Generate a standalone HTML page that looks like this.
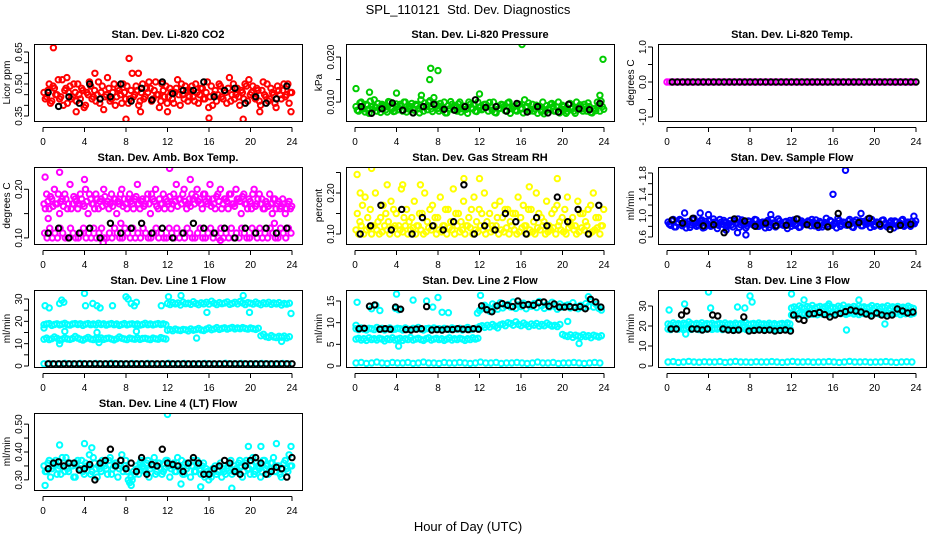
<!DOCTYPE html>
<html><head><meta charset="utf-8"><title>SPL_110121 Std. Dev. Diagnostics</title>
<style>
html,body{margin:0;padding:0;background:#fff;}
svg{display:block;font-family:"Liberation Sans",Arial,sans-serif;}
</style></head>
<body>
<svg id="chart" width="936" height="540" viewBox="0 0 936 540" xmlns="http://www.w3.org/2000/svg">
<rect x="0" y="0" width="936" height="540" fill="#fff"/>
<text x="468" y="14" font-size="13" text-anchor="middle" style="white-space:pre" xml:space="preserve">SPL_110121  Std. Dev. Diagnostics</text>
<text x="468" y="531" font-size="13" text-anchor="middle">Hour of Day (UTC)</text>
</svg>
<script>
// ---- data (hour-of-day series) ----
const xTicks = [0,4,8,12,16,20,24];

const co2Red = [0.46,0.44,0.50,0.42,0.48,0.45,0.43,0.52,0.47,0.41,0.49,0.44,0.46,0.50,0.43,0.47,0.40,0.45,0.49,0.44,0.42,0.51,0.46,0.38,0.45,0.48,0.43,0.50,0.44,0.47,0.41,0.46,0.49,0.43,0.55,0.45,0.47,0.42,0.50,0.44,0.46,0.48,0.43,0.51,0.45,0.42,0.47,0.49,0.44,0.46,0.41,0.48,0.45,0.50,0.43,0.47,0.44,0.49,0.42,0.46,0.45,0.48,0.43,0.51,0.44,0.40,0.47,0.45,0.49,0.43,0.46,0.48,0.42,0.50,0.45,0.44,0.47,0.43,0.49,0.52,0.46,0.44,0.48,0.42,0.47,0.45,0.50,0.43,0.46,0.41,0.49,0.45,0.47,0.44,0.50,0.46];
const co2Red2 = [0.43,0.47,0.41,0.49,0.45,0.52,0.44,0.40,0.48,0.46,0.43,0.50,0.42,0.45,0.48,0.39,0.46,0.51,0.43,0.47,0.45,0.41,0.49,0.44,0.53,0.42,0.46,0.40,0.48,0.45,0.50,0.43,0.41,0.47,0.44,0.49,0.40,0.46,0.43,0.48,0.51,0.42,0.47,0.45,0.39,0.50,0.44,0.41,0.48,0.43,0.46,0.52,0.40,0.45,0.49,0.42,0.47,0.44,0.50,0.41,0.48,0.43,0.46,0.39,0.49,0.45,0.42,0.50,0.44,0.47,0.41,0.53,0.45,0.43,0.48,0.40,0.46,0.50,0.42,0.45,0.49,0.43,0.47,0.40,0.51,0.44,0.42,0.48,0.45,0.39,0.47,0.43,0.50,0.45,0.41,0.46];
const co2OutT = [1.0,8.3,8.0,19.3,16.0,23.9,2.3,5.0,9.2,9.4,12.0,20.9,3.2];
const co2OutV = [0.67,0.62,0.335,0.335,0.34,0.37,0.53,0.55,0.55,0.37,0.37,0.37,0.37];
const co2Black = [0.46,0.395,0.44,0.41,0.50,0.43,0.44,0.50,0.42,0.48,0.425,0.51,0.455,0.47,0.47,0.51,0.44,0.47,0.48,0.41,0.44,0.41,0.43,0.49];

const pressGreen = [0.0090,0.0080,0.0100,0.0085,0.0095,0.0075,0.0090,0.0105,0.0080,0.0085,0.0095,0.0090,0.0078,0.0100,0.0085,0.0080,0.0090,0.0095,0.0080,0.0100,0.0085,0.0090,0.0076,0.0095,0.0085,0.0105,0.0080,0.0090,0.0100,0.0085,0.0110,0.0095,0.0080,0.0090,0.0100,0.0076,0.0085,0.0095,0.0090,0.0080,0.0100,0.0085,0.0090,0.0075,0.0095,0.0085,0.0080,0.0100,0.0090,0.0085,0.0095,0.0080,0.0090,0.0100,0.0076,0.0085,0.0095,0.0090,0.0080,0.0100,0.0085,0.0090,0.0080,0.0095,0.0085,0.0105,0.0090,0.0080,0.0095,0.0085,0.0075,0.0090,0.0100,0.0080,0.0085,0.0095,0.0090,0.0080,0.0100,0.0085,0.0090,0.0075,0.0095,0.0085,0.0080,0.0100,0.0090,0.0085,0.0095,0.0080,0.0090,0.0076,0.0085,0.0100,0.0080,0.0090];
const pressGreen2 = [0.0082,0.0098,0.0088,0.0078,0.0093,0.0102,0.0084,0.0089,0.0097,0.0077,0.0092,0.0083,0.0101,0.0087,0.0079,0.0096,0.0083,0.0091,0.0100,0.0078,0.0088,0.0097,0.0082,0.0092,0.0076,0.0089,0.0098,0.0083,0.0103,0.0079,0.0093,0.0086,0.0097,0.0082,0.0076,0.0092,0.0101,0.0083,0.0088,0.0096,0.0078,0.0091,0.0084,0.0100,0.0087,0.0095,0.0079,0.0088,0.0083,0.0095,0.0090,0.0099,0.0082,0.0077,0.0091,0.0086,0.0094,0.0081,0.0098,0.0075,0.0089,0.0082,0.0094,0.0085,0.0076,0.0090,0.0098,0.0084,0.0080,0.0093,0.0088,0.0079,0.0074,0.0092,0.0083,0.0097,0.0080,0.0089,0.0076,0.0093,0.0084,0.0079,0.0097,0.0088,0.0075,0.0083,0.0094,0.0080,0.0089,0.0098,0.0077,0.0085,0.0081,0.0093,0.0102,0.0084];
const pressOutT = [0.1,1.4,4.0,7.2,7.3,8.0,16.1,23.9,6.4,12.0,23.6];
const pressOutV = [0.0130,0.0122,0.0120,0.0150,0.0175,0.0170,0.0228,0.0195,0.0115,0.0118,0.0115];
const pressBlack = [0.0090,0.0075,0.0085,0.0098,0.0082,0.0076,0.0090,0.0095,0.0084,0.0082,0.0090,0.0105,0.0088,0.0090,0.0080,0.0097,0.0078,0.0090,0.0076,0.0078,0.0095,0.0085,0.0083,0.0097];

const tempMag = [0,0,0,0,0,0,0,0,0,0,0,0,0,0,0,0,0,0,0,0,0,0,0,0,0,0,0,0,0,0,0,0,0,0,0,0,0,0,0,0,0,0,0,0,0,0,0,0,0,0,0,0,0,0,0,0,0,0,0,0,0,0,0,0,0,0,0,0,0,0,0,0,0,0,0,0,0,0,0,0,0,0,0,0,0,0,0,0,0,0,0,0,0,0,0,0];
const tempBlack = [0,0,0,0,0,0,0,0,0,0,0,0,0,0,0,0,0,0,0,0,0,0,0,0,0,0,0,0,0,0,0,0,0,0,0,0,0,0,0,0,0,0,0,0,0,0,0,0];

const ambUpper = [0.17,0.19,0.16,0.18,0.20,0.17,0.15,0.18,0.19,0.16,0.21,0.17,0.18,0.16,0.19,0.17,0.20,0.15,0.18,0.17,0.19,0.16,0.18,0.20,0.17,0.16,0.19,0.18,0.15,0.17,0.20,0.18,0.16,0.19,0.17,0.18,0.21,0.16,0.18,0.17,0.19,0.15,0.18,0.20,0.16,0.17,0.19,0.18,0.17,0.16,0.19,0.21,0.18,0.17,0.20,0.16,0.18,0.19,0.17,0.20,0.18,0.16,0.19,0.17,0.21,0.18,0.16,0.19,0.20,0.17,0.18,0.16,0.19,0.17,0.20,0.18,0.15,0.19,0.17,0.18,0.16,0.20,0.17,0.19,0.18,0.16,0.17,0.19,0.15,0.18,0.17,0.16,0.18,0.15,0.17,0.16];
const ambUpper2 = [0.16,0.175,0.185,0.165,0.17,0.19,0.175,0.165,0.18,0.17,0.16,0.185,0.175,0.17,0.18,0.165,0.175,0.19,0.17,0.16,0.18,0.175,0.165,0.185,0.175,0.17,0.165,0.18,0.175,0.19,0.165,0.17,0.18,0.175,0.16,0.185,0.17,0.175,0.165,0.18,0.17,0.19,0.175,0.165,0.18,0.17,0.16,0.175,0.185,0.17,0.175,0.165,0.18,0.19,0.175,0.17,0.165,0.18,0.185,0.175,0.17,0.19,0.175,0.18,0.165,0.17,0.185,0.175,0.16,0.18,0.175,0.19,0.17,0.165,0.18,0.175,0.185,0.17,0.16,0.175,0.19,0.165,0.18,0.17,0.16,0.175,0.165,0.17,0.18,0.16,0.175,0.165,0.17,0.16,0.175,0.165];
const ambLower = [0.11,0.10,0.12,0.10,0.11,0.10,0.12,0.11,0.10,0.10,0.12,0.11,0.10,0.10,0.11,0.12,0.10,0.11,0.10,0.12,0.10,0.11,0.12,0.10,0.10,0.11,0.10,0.12,0.11,0.10,0.10,0.12,0.11,0.10,0.12,0.10,0.11,0.10,0.12,0.11,0.10,0.10,0.11,0.12,0.10,0.11,0.10,0.10,0.12,0.11,0.10,0.12,0.10,0.11,0.10,0.12,0.11,0.10,0.10,0.11,0.12,0.10,0.10,0.11,0.12,0.10,0.11,0.10,0.12,0.10,0.11,0.10,0.12,0.10,0.11,0.10,0.12,0.11,0.10,0.10,0.12,0.11,0.10,0.12,0.10,0.11,0.10,0.12,0.11,0.10,0.10,0.12,0.11,0.10,0.12,0.11];
const ambOutT = [0.2,1.6,12.2,4.0,14.2,7.5,22.3,0.5,5.8,17.1];
const ambOutV = [0.225,0.235,0.243,0.22,0.22,0.13,0.13,0.14,0.09,0.095];
const ambBlack = [0.11,0.12,0.10,0.11,0.12,0.10,0.13,0.11,0.12,0.13,0.11,0.12,0.10,0.11,0.13,0.12,0.11,0.12,0.10,0.12,0.11,0.12,0.11,0.12];

const rhYellow = [0.11,0.10,0.12,0.10,0.11,0.115,0.10,0.12,0.11,0.10,0.105,0.12,0.11,0.10,0.115,0.12,0.10,0.11,0.105,0.12,0.10,0.11,0.115,0.10,0.12,0.11,0.10,0.105,0.115,0.11,0.12,0.10,0.11,0.105,0.12,0.10,0.115,0.11,0.10,0.12,0.105,0.11,0.10,0.12,0.115,0.10,0.11,0.105,0.12,0.11,0.10,0.115,0.105,0.11,0.12,0.10,0.11,0.105,0.115,0.10,0.12,0.11,0.10,0.105,0.115,0.12,0.10,0.11,0.105,0.10,0.115,0.11,0.12,0.10,0.105,0.11,0.115,0.10,0.12,0.11,0.105,0.10,0.115,0.12,0.11,0.10,0.105,0.115,0.11,0.12,0.10,0.105,0.11,0.115,0.10,0.12];
const rhYellow2 = [0.15,0.13,0.17,0.19,0.14,0.16,0.12,0.20,0.13,0.14,0.17,0.15,0.13,0.18,0.16,0.15,0.12,0.21,0.14,0.16,0.13,0.14,0.18,0.12,0.15,0.15,0.20,0.13,0.16,0.17,0.14,0.14,0.19,0.12,0.16,0.16,0.13,0.21,0.15,0.15,0.13,0.18,0.12,0.14,0.16,0.19,0.13,0.16,0.15,0.20,0.13,0.15,0.12,0.17,0.14,0.18,0.14,0.16,0.16,0.13,0.15,0.15,0.19,0.14,0.17,0.12,0.16,0.16,0.13,0.20,0.15,0.14,0.13,0.18,0.12,0.15,0.16,0.17,0.13,0.14,0.16,0.19,0.13,0.14,0.12,0.18,0.15,0.15,0.13,0.16,0.17,0.20,0.14,0.14,0.12,0.16];
const rhOutT = [0.2,1.6,12.0,3.1,6.3,16.8,10.5,4.6,19.5,0.5];
const rhOutV = [0.245,0.26,0.235,0.22,0.22,0.215,0.235,0.22,0.235,0.20];
const rhBlack = [0.10,0.12,0.17,0.11,0.16,0.10,0.14,0.12,0.11,0.13,0.22,0.10,0.12,0.11,0.15,0.13,0.10,0.14,0.12,0.19,0.13,0.16,0.10,0.17];

const flowBlue = [0.88,0.82,0.93,0.79,0.86,0.91,0.84,0.77,0.89,0.83,0.95,0.80,0.87,0.92,0.78,0.85,0.90,0.82,0.88,0.76,0.93,0.84,0.87,0.81,0.91,0.79,0.86,0.94,0.83,0.88,0.77,0.90,0.85,0.82,0.92,0.80,0.87,0.84,0.89,0.78,0.93,0.86,0.81,0.90,0.83,0.88,0.76,0.91,0.85,0.82,0.94,0.79,0.87,0.84,0.90,0.81,0.88,0.92,0.78,0.86,0.83,0.95,0.80,0.89,0.85,0.77,0.91,0.84,0.87,0.82,0.93,0.79,0.88,0.85,0.90,0.81,0.86,0.94,0.78,0.89,0.83,0.87,0.80,0.92,0.85,0.82,0.90,0.77,0.88,0.84,0.91,0.80,0.86,0.83,0.89,0.85];
const flowBlue2 = [0.84,0.90,0.79,0.87,0.93,0.81,0.88,0.85,0.78,0.92,0.86,0.83,0.90,0.77,0.89,0.84,0.80,0.94,0.86,0.82,0.88,0.91,0.79,0.85,0.83,0.90,0.87,0.78,0.92,0.84,0.81,0.89,0.86,0.93,0.80,0.85,0.88,0.77,0.91,0.83,0.86,0.79,0.94,0.85,0.82,0.89,0.87,0.80,0.92,0.84,0.78,0.90,0.86,0.83,0.88,0.93,0.81,0.85,0.89,0.79,0.87,0.84,0.91,0.82,0.86,0.95,0.80,0.88,0.83,0.90,0.85,0.78,0.92,0.87,0.81,0.89,0.84,0.86,0.93,0.80,0.88,0.82,0.91,0.85,0.79,0.87,0.84,0.90,0.81,0.86,0.93,0.83,0.88,0.80,0.85,0.90];
const flowOutT = [16.0,17.2,1.7,3.2,7.6,6.8,10.0,18.7,23.8,5.7,4.0];
const flowOutV = [1.40,1.85,1.05,1.05,0.64,0.68,1.02,1.04,0.99,0.73,1.02];
const flowBlack = [0.92,0.86,0.95,0.81,0.83,0.68,0.94,0.90,0.80,0.86,0.81,0.82,0.94,0.83,0.82,0.79,1.04,0.83,0.87,0.95,0.84,0.74,0.82,0.84];

const l1Bottom = [1.0,1.1,0.9,1.0,1.2,1.0,0.9,1.1,1.0,1.0,1.1,0.9,1.0,1.2,1.0,1.0,0.9,1.1,1.0,1.0,1.1,1.0,0.9,1.0,1.2,1.0,1.0,1.1,0.9,1.0,1.0,1.1,1.0,0.9,1.0,1.2,1.0,1.0,1.1,0.9,1.0,1.0,1.1,1.0,0.9,1.0,1.1,1.0];
const l1Low = [12,12.5,11.8,12.2,13,12.4,11.5,12,12.6,12.1,11.9,12.3,13.2,12.5,12,11.6,12.2,12.8,12.1,11.8,12.4,12,12.6,11.9,12.3,12.5,12.1,11.7,12.2,13,12.4,12.1,11.8,12.5,12.2,12,12.6,11.9,12.3,12.4,12.1,11.8,12.5,12.2,12,12.7,12.3,12.1];
const l1Mid = [18.5,18.8,19,18.2,18.6,18.9,18.4,18.7,19.1,18.5,18.3,18.8,19,18.6,18.9,18.2,18.7,19,18.5,18.8,18.4,19.1,18.6,18.9,18.3,18.7,19,18.5,18.8,18.2,18.6,19,18.4,18.7,18.9,18.5,18.8,18.3,18.6,19.1,18.5,18.8,18.4,18.7,19,18.6,18.9,18.5];
const l1Hi2 = [28,27.5,28.4,27.8,28.2,27.3,28.6,27.9,28.1,27.6,28.8,28,27.4,28.3,27.8,28.5,27.7,29,28.1,27.5,28.4,27.9,28.2,28.7,27.6,28,28.5,27.8,28.9,28.2,27.5,28.4,28.1,27.7,28.6,28,27.4,28.3,27.9,28.5,27.6,28.2,27.8,28.4,27.3,28,27.7,28.1];
const l1Mid2 = [16,16.3,15.8,16.5,16.1,15.9,16.4,16.2,15.7,16.6,16,16.3,16.8,16.1,15.9,16.5,17,16.2,16.6,17.2,16.4,16.8,17.1,16.5,16.9,17.3,16.6,17,16.7,17.2,16.8,16.5,17,16.7,16.4,16.9,13.5,14.2,13.1,12.8,13.6,13,12.7,13.3,12.9,13.4,12.6,13.1];
const l1OutT = [0.2,0.6,1.6,1.8,2.0,4.0,4.1,4.8,5.2,5.5,6.7,8.0,8.2,8.5,8.8,9.0,11.4,0.1,1.6,5.4,9.0,14.8,15.8,19.9,23.9,5.2,2.1,13.3,12.1,19.3,23.0];
const l1OutV = [27,26,28,29.5,28.5,32.5,27,28,27,26,27,31,30,28,27,28.5,27,17,10,10.5,15.5,12.5,24,24,23.5,15,15.5,31.5,31,31.5,11];
const l1Black = [1,1,1,1,1,1,1,1,1,1,1,1,1,1,1,1,1,1,1,1,1,1,1,1,1,1,1,1,1,1,1,1,1,1,1,1,1,1,1,1,1,1,1,1,1,1,1,1];

const l2Bottom = [0.7,0.8,0.6,0.7,0.9,0.7,0.6,0.8,0.7,0.7,0.8,0.6,0.7,0.9,0.7,0.7,0.6,0.8,0.7,0.7,0.8,0.7,0.6,0.7,0.9,0.7,0.7,0.8,0.6,0.7,0.7,0.8,0.7,0.6,0.7,0.9,0.7,0.7,0.8,0.6,0.7,0.7,0.8,0.7,0.6,0.7,0.8,0.7];
const l2Low = [6.2,6.4,6.0,6.3,5.9,6.5,6.1,6.3,6.0,6.4,6.2,5.8,6.3,6.1,6.5,6.0,6.2,6.4,5.9,6.3,6.1,6.6,6.0,6.2,6.4,6.1,5.9,6.3,6.5,6.0,6.2,6.4,6.1,6.3,5.9,6.2,6.5,6.0,6.3,6.1,6.4,6.2,5.9,6.3,6.1,6.5,6.2,6.4];
const l2Mid = [8.6,8.4,8.8,8.5,8.3,8.7,8.6,8.4,8.9,8.5,8.7,8.3,8.6,8.8,8.4,8.5,8.7,8.6,8.3,8.8,8.5,8.4,8.7,8.6,8.9,8.5,8.3,8.6,8.7,8.4,8.8,8.5,8.6,8.3,8.7,8.5,8.4,8.8,8.6,8.5,8.7,8.3,8.6,8.9,8.4,8.5,8.7,8.6];
const l2Up2 = [12.8,13.2,14,13.5,12.6,14.3,13.8,13.1,14.6,13.4,13.9,14.2,13.6,14.8,13.3,14.1,13.7,14.5,13.2,14,13.8,14.4,13.5,14.9,13.9,13.3,14.2,13.6,14.7,13.8,13.1,14.3,13.6,13.9,14.1,13.4,14.6,13.7,13.2,14,13.5,14.4,13.8,14.9,13.6,14.2,13.3,12.9];
const l2Mid2 = [9.1,9.3,8.9,9.4,9.0,9.6,9.2,8.8,9.5,9.7,9.3,10.0,9.8,9.4,10.2,9.6,9.3,9.9,9.5,9.1,9.7,9.4,9.8,9.2,9.6,9.3,9.9,9.5,9.2,9.4,9.1,9.6,7.3,7.0,6.8,7.2,6.6,7.1,6.9,6.7,7.2,6.8,7.0,6.5,7.1,6.9,6.7,7.0];
const l2OutT = [0.2,1.6,2.0,4.0,4.2,5.6,8.0,8.4,11.8,0.1,12.1,22.5,4.2,9.0,20.5,2.4,3.9,7.5,6.9,21.6];
const l2OutV = [14.7,13.2,14.0,16.6,13.0,15.2,15.8,12.4,12.2,9.4,16.3,16.0,4.6,12.3,10.3,12.8,13.3,13.6,15.0,5.2];
const l2Black = [8.6,8.7,13.8,14.1,8.5,8.6,8.5,13.6,13.1,8.4,8.3,8.5,8.6,13.7,8.3,8.4,8.3,8.5,8.4,8.6,8.5,8.4,8.6,8.5];
const l2Black2 = [13.9,13.0,12.5,13.9,14.4,14.0,13.7,15.0,14.0,14.2,14.0,14.6,14.8,13.8,14.3,13.6,13.6,13.7,13.5,13.7,13.2,15.4,14.8,13.6];

const l3Bottom = [2,2.2,1.8,2,2.3,2,1.9,2.1,2,2,2.2,1.8,2,2.3,2,2,1.9,2.1,2,2,2.2,2,1.8,2,2.3,2,2,2.1,1.9,2,2,2.2,2,1.8,2,2.3,2,2,2.1,1.9,2,2,2.2,2,1.8,2,2.1,2];
const l3Low = [18.5,18.2,19,18.7,18.4,18.9,18.1,18.6,19.2,18.3,18.8,18.5,18.2,19.1,18.6,18.4,18.9,18.3,18.7,18.5,19,18.2,18.6,18.8,18.4,18.9,18.1,18.7,18.5,19.2,18.3,18.6,18.4,18.9,18.2,18.7,18.5,19,18.3,18.6,18.8,18.2,18.5,18.9,18.4,18.7,18.3,18.6];
const l3Hi = [21,20.5,21.5,20.8,21.2,20.6,21.4,20.9,22,21.1,20.7,21.3,20.8,21.6,20.5,21.2,20.9,21.4,20.6,21,21.3,20.7,21.5,20.8,21.1,20.6,21.4,20.9,21.2,20.5,21.6,20.8,21,21.3,20.7,21.5,20.9,21.1,20.6,21.4,20.8,21.2,20.5,21,21.3,20.7,21.5,21];
const l3Up2 = [29,29.5,28.6,30,29.2,28.8,29.7,29.1,30.3,28.9,29.4,29.8,28.7,29.6,30.1,29,29.3,28.8,29.9,29.2,30.4,28.9,29.5,29.1,29.8,28.7,30,29.3,29.6,28.9,29.4,30.2,29,29.7,28.8,29.5,29.2,30.1,28.9,29.6,29.3,29.8,28.7,29.4,29,29.9,29.2,28.8];
const l3Mid2 = [25.5,26,25.2,26.4,25.8,26.1,25.4,26.6,25.9,26.2,25.6,26.8,26,26.5,25.7,26.3,26.9,25.9,26.4,26.1,26.7,25.8,26.3,26.6,26,26.9,25.7,26.4,26.2,26.8,25.9,26.5,26.1,26.7,25.8,26.3,26,26.6,25.9,26.4,26.2,26.8,25.7,26.5,26.1,26.7,25.9,26.3];
const l3OutT = [1.7,4.0,8.0,8.2,12.0,13.2,0.2,4.2,6.8,17.3,21.0,18.5,1.8,7.5,15.6];
const l3OutV = [31,37,35,32,36,33,28,29,29.5,18,21,33,16,29,31];
const l3Black = [18.5,18.5,25.5,27.5,18.5,18.5,18.0,18.5,25.5,25,18.5,18,17.8,18,24.5,17.5,17.8,18,17.8,18.0,17.5,17.8,18,17.5];
const l3Black2 = [25.5,23.5,22.8,26,26.2,26.8,25.7,24.5,25.5,26.3,27.2,28,27.5,27,26,25,26.5,25.5,25,25.5,28.5,27.5,26.5,27];

const l4Cyan = [0.35,0.33,0.37,0.34,0.36,0.32,0.35,0.38,0.33,0.34,0.36,0.35,0.31,0.37,0.34,0.33,0.36,0.35,0.32,0.38,0.34,0.35,0.33,0.36,0.34,0.37,0.32,0.35,0.36,0.34,0.39,0.35,0.33,0.29,0.30,0.32,0.34,0.36,0.35,0.33,0.37,0.34,0.35,0.32,0.36,0.34,0.33,0.37,0.35,0.34,0.36,0.33,0.35,0.37,0.32,0.34,0.36,0.35,0.33,0.37,0.34,0.35,0.31,0.33,0.32,0.34,0.35,0.33,0.36,0.34,0.32,0.35,0.37,0.33,0.34,0.36,0.35,0.33,0.37,0.34,0.35,0.32,0.36,0.34,0.33,0.37,0.35,0.34,0.36,0.33,0.35,0.32,0.34,0.37,0.33,0.35];
const l4Cyan2 = [0.33,0.36,0.31,0.35,0.37,0.34,0.32,0.36,0.38,0.33,0.35,0.31,0.36,0.34,0.37,0.32,0.35,0.39,0.33,0.36,0.31,0.34,0.37,0.35,0.32,0.38,0.34,0.36,0.31,0.35,0.33,0.37,0.30,0.31,0.33,0.35,0.32,0.37,0.34,0.36,0.31,0.35,0.38,0.33,0.36,0.32,0.34,0.37,0.31,0.35,0.33,0.38,0.34,0.32,0.36,0.35,0.31,0.37,0.33,0.35,0.32,0.36,0.34,0.30,0.31,0.33,0.32,0.35,0.31,0.33,0.34,0.36,0.32,0.35,0.33,0.37,0.31,0.36,0.34,0.32,0.38,0.33,0.35,0.31,0.37,0.34,0.32,0.36,0.38,0.33,0.35,0.31,0.36,0.34,0.39,0.35];
const l4OutT = [12.0,0.2,13.3,15.2,18.2,1.6,4.0,22.5,19.8,8.5,4.7,23.9,21.0];
const l4OutV = [0.535,0.28,0.285,0.275,0.27,0.425,0.43,0.43,0.42,0.28,0.415,0.42,0.42];
const l4Black = [0.34,0.365,0.36,0.335,0.355,0.36,0.41,0.37,0.36,0.38,0.355,0.41,0.355,0.33,0.38,0.32,0.34,0.37,0.33,0.35,0.38,0.32,0.345,0.31];
const l4Black2 = [0.36,0.35,0.36,0.34,0.30,0.37,0.35,0.34,0.33,0.32,0.35,0.36,0.35,0.36,0.36,0.32,0.35,0.36,0.32,0.37,0.36,0.33,0.34,0.38];

// ---- panel layout / axis config ----
const colLeft = [34,346,658];
const rowTop = [44,167,290,413];
const BOXW = 268, BOXH = 77;

const panels = [
 {name:'co2', title:'Stan. Dev. Li-820 CO2', ylab:'Licor ppm', col:0,row:0, ymin:0.3266,ymax:0.6875,
  ticks:[0.35,0.40,0.45,0.50,0.55,0.60,0.65], labels:[['0.35',0.35],['0.50',0.50],['0.65',0.65]],
  series:[{v:co2Red,t0:0.1,dt:0.25,c:'#ff0000'},{v:co2Red2,t0:0.22,dt:0.25,c:'#ff0000'}],
  outT:co2OutT,outV:co2OutV,outC:'#ff0000',
  black:[{v:co2Black,t0:0.5,dt:1}]},
 {name:'pressure', title:'Stan. Dev. Li-820 Pressure', ylab:'kPa', col:1,row:0, ymin:0.0058,ymax:0.0229,
  ticks:[0.010,0.015,0.020], labels:[['0.010',0.010],['0.020',0.020]],
  series:[{v:pressGreen,t0:0.1,dt:0.25,c:'#00cc00'},{v:pressGreen2,t0:0.22,dt:0.25,c:'#00cc00'}],
  outT:pressOutT,outV:pressOutV,outC:'#00cc00',
  black:[{v:pressBlack,t0:0.6,dt:1}]},
 {name:'temp', title:'Stan. Dev. Li-820 Temp.', ylab:'degrees C', col:2,row:0, ymin:-1.114,ymax:1.086,
  ticks:[-1,-0.5,0,0.5,1], labels:[['-1.0',-1],['0.0',0],['1.0',1]],
  series:[{v:tempMag,t0:0,dt:0.25,c:'#ff00ff'}],
  outT:[],outV:[],outC:'#ff00ff',
  black:[{v:tempBlack,t0:0.5,dt:0.5}]},
 {name:'amb-box', title:'Stan. Dev. Amb. Box Temp.', ylab:'degrees C', col:0,row:1, ymin:0.0875,ymax:0.2458,
  ticks:[0.10,0.15,0.20], labels:[['0.10',0.10],['0.20',0.20]],
  series:[{v:ambUpper,t0:0.1,dt:0.25,c:'#ff00ff'},{v:ambUpper2,t0:0.22,dt:0.25,c:'#ff00ff'},{v:ambLower,t0:0.15,dt:0.25,c:'#ff00ff'}],
  outT:ambOutT,outV:ambOutV,outC:'#ff00ff',
  black:[{v:ambBlack,t0:0.5,dt:1}]},
 {name:'gas-rh', title:'Stan. Dev. Gas Stream RH', ylab:'percent', col:1,row:1, ymin:0.0756,ymax:0.2634,
  ticks:[0.10,0.15,0.20,0.25], labels:[['0.10',0.10],['0.20',0.20]],
  series:[{v:rhYellow,t0:0.1,dt:0.25,c:'#ffff00'},{v:rhYellow2,t0:0.22,dt:0.25,c:'#ffff00'}],
  outT:rhOutT,outV:rhOutV,outC:'#ffff00',
  black:[{v:rhBlack,t0:0.5,dt:1}]},
 {name:'sample-flow', title:'Stan. Dev. Sample Flow', ylab:'ml/min', col:2,row:1, ymin:0.469,ymax:1.9125,
  ticks:[0.6,0.8,1.0,1.2,1.4,1.6,1.8], labels:[['0.6',0.6],['1.0',1.0],['1.4',1.4],['1.8',1.8]],
  series:[{v:flowBlue,t0:0.1,dt:0.25,c:'#0000ff'},{v:flowBlue2,t0:0.22,dt:0.25,c:'#0000ff'}],
  outT:flowOutT,outV:flowOutV,outC:'#0000ff',
  black:[{v:flowBlack,t0:0.5,dt:1}]},
 {name:'line1-flow', title:'Stan. Dev. Line 1 Flow', ylab:'ml/min', col:0,row:2, ymin:-0.45,ymax:34.03,
  ticks:[0,5,10,15,20,25,30], labels:[['0',0],['10',10],['20',20],['30',30]],
  series:[{v:l1Bottom,t0:0.1,dt:0.5,c:'#00ffff'},{v:l1Low,t0:0.1,dt:0.25,c:'#00ffff'},{v:l1Mid,t0:0.1,dt:0.25,c:'#00ffff'},{v:l1Hi2,t0:12.0,dt:0.25,c:'#00ffff'},{v:l1Mid2,t0:12.0,dt:0.25,c:'#00ffff'}],
  outT:l1OutT,outV:l1OutV,outC:'#00ffff',
  black:[{v:l1Black,t0:0.5,dt:0.5}]},
 {name:'line2-flow', title:'Stan. Dev. Line 2 Flow', ylab:'ml/min', col:1,row:2, ymin:-0.23,ymax:17.54,
  ticks:[0,5,10,15], labels:[['0',0],['5',5],['10',10],['15',15]],
  series:[{v:l2Bottom,t0:0.1,dt:0.5,c:'#00ffff'},{v:l2Low,t0:0.1,dt:0.25,c:'#00ffff'},{v:l2Mid,t0:0.1,dt:0.25,c:'#00ffff'},{v:l2Up2,t0:12.0,dt:0.25,c:'#00ffff'},{v:l2Mid2,t0:12.0,dt:0.25,c:'#00ffff'}],
  outT:l2OutT,outV:l2OutV,outC:'#00ffff',
  black:[{v:l2Black,t0:0.4,dt:0.5},{v:l2Black2,t0:12.2,dt:0.5}]},
 {name:'line3-flow', title:'Stan. Dev. Line 3 Flow', ylab:'ml/min', col:2,row:2, ymin:-0.5,ymax:38,
  ticks:[0,10,20,30], labels:[['0',0],['10',10],['20',20],['30',30]],
  series:[{v:l3Bottom,t0:0.1,dt:0.5,c:'#00ffff'},{v:l3Low,t0:0.1,dt:0.25,c:'#00ffff'},{v:l3Hi,t0:0.1,dt:0.25,c:'#00ffff'},{v:l3Up2,t0:12.0,dt:0.25,c:'#00ffff'},{v:l3Mid2,t0:12.0,dt:0.25,c:'#00ffff'}],
  outT:l3OutT,outV:l3OutV,outC:'#00ffff',
  black:[{v:l3Black,t0:0.4,dt:0.5},{v:l3Black2,t0:12.2,dt:0.5}]},
 {name:'line4-flow', title:'Stan. Dev. Line 4 (LT) Flow', ylab:'ml/min', col:0,row:3, ymin:0.2636,ymax:0.54,
  ticks:[0.30,0.35,0.40,0.45,0.50], labels:[['0.30',0.30],['0.40',0.40],['0.50',0.50]],
  series:[{v:l4Cyan,t0:0.1,dt:0.25,c:'#00ffff'},{v:l4Cyan2,t0:0.22,dt:0.25,c:'#00ffff'}],
  outT:l4OutT,outV:l4OutV,outC:'#00ffff',
  black:[{v:l4Black,t0:0.5,dt:1},{v:l4Black2,t0:1.0,dt:1}]}
];

const NS = 'http://www.w3.org/2000/svg';
const svg = document.getElementById('chart');
const R = 2.7, SW = 2;
function mk(tag, attrs, parent){
  const e = document.createElementNS(NS, tag);
  for (const k in attrs) e.setAttribute(k, attrs[k]);
  (parent||svg).appendChild(e);
  return e;
}

panels.forEach(p => {
  const L = colLeft[p.col], T = rowTop[p.row], B = T + BOXH;
  const xs = h => L + 9 + h * (249/24);
  const ys = v => B - (v - p.ymin) / (p.ymax - p.ymin) * BOXH;
  const g = mk('g', {});
  
  

  const title = mk('text', {x: L + BOXW/2, y: T - 6, 'font-size': 11, 'font-weight': 'bold', 'text-anchor': 'middle'}, g);
  
  
  title.textContent = p.title;

  const yl = mk('text', {x: 0, y: 0, 'font-size': 10, 'text-anchor': 'middle', transform: 'translate(' + (L-24) + ',' + (T + BOXH/2) + ') rotate(-90)'}, g);
  
  
  yl.textContent = p.ylab;

  const clip = mk('clipPath', {id: 'clip-' + p.name}, g);
  mk('rect', {x: L, y: T, width: BOXW, height: BOXH}, clip);
  const marks = mk('g', {'clip-path': 'url(#clip-' + p.name + ')', fill: 'none', 'stroke-width': SW}, g);
  
  

  p.series.forEach(s => {
    s.v.forEach((v, i) => {
      const c = mk('circle', {cx: xs(s.t0 + i*s.dt).toFixed(1), cy: ys(v).toFixed(1), r: R, stroke: s.c}, marks);
      
      
    });
  });
  p.outT.forEach((t, i) => {
    const c = mk('circle', {cx: xs(t).toFixed(1), cy: ys(p.outV[i]).toFixed(1), r: R, stroke: p.outC}, marks);
    
    
  });
  p.black.forEach(s => {
    s.v.forEach((v, i) => {
      const c = mk('circle', {cx: xs(s.t0 + i*s.dt).toFixed(1), cy: ys(v).toFixed(1), r: R, stroke: '#000'}, marks);
      
      
    });
  });

  const box = mk('rect', {x: L + 0.5, y: T + 0.5, width: BOXW, height: BOXH, fill: 'none', stroke: '#000', 'stroke-width': 1}, g);
  
  

  const xax = mk('g', {}, g);
  
  
  mk('line', {x1: xs(0), x2: xs(24), y1: B + 6.5, y2: B + 6.5, stroke: '#000'}, xax);
  xTicks.forEach(h => {
    mk('line', {x1: xs(h), x2: xs(h), y1: B + 6.5, y2: B + 11, stroke: '#000'}, xax);
    const t = mk('text', {x: xs(h), y: B + 24, 'font-size': 10, 'text-anchor': 'middle'}, xax);
    
    
    t.textContent = h;
  });

  const yax = mk('g', {}, g);
  
  
  mk('line', {x1: L - 5.5, x2: L - 5.5, y1: ys(p.ticks[0]), y2: ys(p.ticks[p.ticks.length-1]), stroke: '#000'}, yax);
  p.ticks.forEach(v => {
    mk('line', {x1: L - 10, x2: L - 5.5, y1: ys(v), y2: ys(v), stroke: '#000'}, yax);
  });
  p.labels.forEach(lb => {
    const t = mk('text', {x: 0, y: 0, 'font-size': 10, 'text-anchor': 'middle', transform: 'translate(' + (L-12) + ',' + ys(lb[1]).toFixed(1) + ') rotate(-90)'}, yax);
    
    
    t.textContent = lb[0];
  });
});
</script>
</body></html>
